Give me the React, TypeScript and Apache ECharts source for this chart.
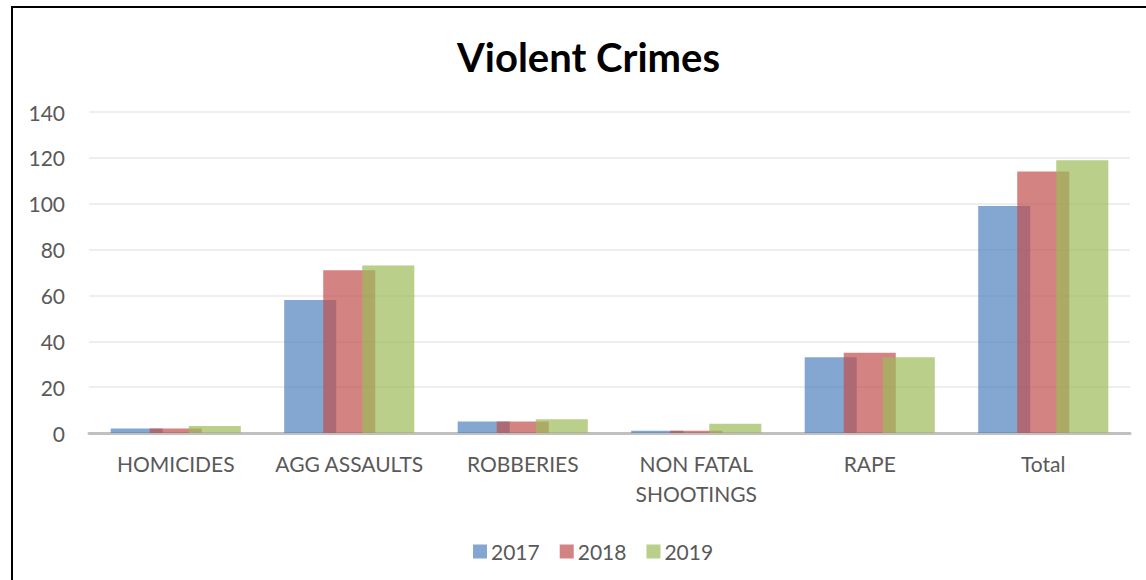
import React, { useEffect, useRef } from "react";
import * as echarts from "echarts";

const categories = ["HOMICIDES", "AGG ASSAULTS", "ROBBERIES", "NON FATAL\nSHOOTINGS", "RAPE", "Total"];
const seriesNames = ["2017", "2018", "2019"];
const values2017 = [2, 58, 5, 1, 33, 99];
const values2018 = [2, 71, 5, 1, 35, 114];
const values2019 = [3, 73, 6, 4, 33, 119];
const colors = ["#4F81BD", "#C0504D", "#9BBB59"];

export default function App() {
  const ref = useRef<HTMLDivElement>(null);
  useEffect(() => {
    if (!ref.current) return;
    const chart = echarts.init(ref.current, null, { renderer: "svg" });
    const data = [values2017, values2018, values2019];
    chart.setOption({
      animation: false,
      backgroundColor: "#ffffff",
      textStyle: { fontFamily: "Lato" },
      title: {
        text: "Violent Crimes",
        left: 452,
        top: 32,
        textStyle: { fontFamily: "Lato", fontWeight: "bold", fontSize: 40, color: "#000000" },
      },
      graphic: [
        {
          type: "rect",
          shape: { x: 12, y: 7, width: 1300, height: 800 },
          style: { fill: "none", stroke: "#000000", lineWidth: 2 },
          silent: true,
          z: 100,
        },
      ],
      legend: {
        data: seriesNames,
        top: 536,
        left: 468,
        itemWidth: 14,
        itemHeight: 14,
        itemGap: 20,
        icon: "rect",
        textStyle: { fontFamily: "Lato", fontSize: 21, color: "#595959", padding: [0, 0, 0, -1] },
      },
      grid: { left: 89, right: 16, top: 112, bottom: 147, containLabel: false },
      xAxis: {
        type: "category",
        data: categories,
        axisLine: { show: true, lineStyle: { color: "#c0c0c0", width: 3 } },
        axisTick: { show: false },
        axisLabel: {
          fontFamily: "Lato",
          fontSize: 21,
          color: "#595959",
          margin: 15,
          lineHeight: 30,
          interval: 0,
        },
      },
      yAxis: {
        type: "value",
        min: 0,
        max: 140,
        interval: 20,
        axisLine: { show: false },
        axisTick: { show: false },
        splitLine: { lineStyle: { color: "#e8e8e8", width: 1.5 } },
        axisLabel: { fontFamily: "Lato", fontSize: 21, color: "#595959", margin: 24 },
      },
      series: seriesNames.map((name, i) => ({
        name,
        type: "bar",
        data: data[i],
        barGap: "-25%",
        barCategoryGap: "25%",
        itemStyle: { color: colors[i], opacity: 0.7 },
      })),
    });
    return () => chart.dispose();
  }, []);
  return (
    <div
      ref={ref}
      style={{ position: "fixed", left: 0, top: 0, width: 1146, height: 580 }}
    />
  );
}
